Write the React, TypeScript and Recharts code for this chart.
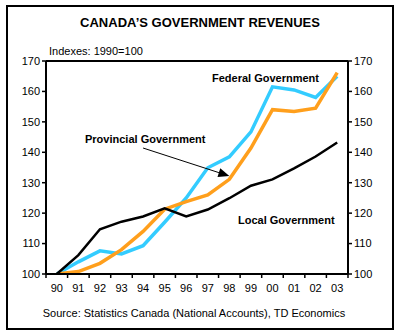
import { LineChart, Line, XAxis, YAxis, ReferenceLine } from 'recharts';

const years = ['90', '91', '92', '93', '94', '95', '96', '97', '98', '99', '00', '01', '02', '03'];
const federal = [100, 104, 107.6, 106.6, 109.3, 117, 125, 134.9, 138.5, 146.7, 161.5, 160.5, 158, 165];
const provincial = [100, 100.8, 103.5, 108, 114, 121.3, 123.8, 126, 131.1, 141.4, 154, 153.4, 154.5, 166.2];
const local = [100, 106.2, 114.7, 117.2, 118.9, 121.6, 118.9, 121.2, 124.9, 129, 131.1, 134.7, 138.6, 143.2];
const yTicks = [100, 110, 120, 130, 140, 150, 160, 170];

const FONT = 'Arial, "Liberation Sans", sans-serif';
const HALF_BAND = 10.8;

const data = years.map((y, i) => ({
  year: y,
  federal: federal[i],
  provincial: provincial[i],
  local: local[i],
}));

function XTick(props: any) {
  const { x, y, payload, index } = props;
  const last = index === years.length - 1;
  return (
    <g>
      <line x1={x - HALF_BAND} x2={x - HALF_BAND} y1={y - 8} y2={y - 4} stroke="#000" strokeWidth={1.5} />
      {last && (
        <line x1={x + HALF_BAND} x2={x + HALF_BAND} y1={y - 8} y2={y - 4} stroke="#000" strokeWidth={1.5} />
      )}
      <text x={x} y={y + 10} textAnchor="middle" fontSize={11} fontFamily={FONT} fill="#000">
        {payload.value}
      </text>
    </g>
  );
}

function Arrow(props: any) {
  const { x1, y1, x2, y2 } = props;
  const ang = Math.atan2(y2 - y1, x2 - x1);
  const len = 11;
  const w = 4.5;
  const bx = x2 - len * Math.cos(ang);
  const by = y2 - len * Math.sin(ang);
  const px = -Math.sin(ang) * w;
  const py = Math.cos(ang) * w;
  return (
    <g>
      <line x1={x1} y1={y1} x2={bx} y2={by} stroke="#000" strokeWidth={1} />
      <polygon points={`${x2},${y2} ${bx + px},${by + py} ${bx - px},${by - py}`} fill="#000" />
    </g>
  );
}

const label = (left: number, top: number, text: string) => (
  <div
    style={{
      position: 'absolute',
      left,
      top,
      fontFamily: FONT,
      fontWeight: 700,
      fontSize: 11,
      whiteSpace: 'nowrap',
      color: '#000',
    }}
  >
    {text}
  </div>
);

export default function App() {
  return (
    <div
      style={{
        position: 'absolute',
        left: 0,
        top: 0,
        width: 404,
        height: 336,
        background: '#fff',
        fontFamily: FONT,
      }}
    >
      <div
        style={{
          position: 'absolute',
          left: 6,
          top: 5,
          width: 384,
          height: 321,
          border: '2px solid #000',
        }}
      />
      <div
        style={{
          position: 'absolute',
          left: 0,
          width: 400,
          top: 15,
          textAlign: 'center',
          fontWeight: 700,
          fontSize: 13,
        }}
      >
        CANADA&#8217;S GOVERNMENT REVENUES
      </div>
      <div style={{ position: 'absolute', left: 49, top: 45, fontSize: 11 }}>Indexes: 1990=100</div>
      <div
        style={{
          position: 'absolute',
          left: 0,
          width: 388,
          top: 307,
          textAlign: 'center',
          fontSize: 11,
        }}
      >
        Source: Statistics Canada (National Accounts), TD Economics
      </div>
      <div style={{ position: 'absolute', left: 0, top: 0 }}>
        <LineChart
          width={404}
          height={336}
          data={data}
          margin={{ top: 61, right: 16, bottom: 32, left: 6 }}
        >
          <XAxis
            dataKey="year"
            padding={{ left: HALF_BAND, right: HALF_BAND }}
            axisLine={{ stroke: '#000', strokeWidth: 2 }}
            tickLine={false}
            tick={<XTick />}
            height={30}
            interval={0}
          />
          <YAxis
            yAxisId="left"
            domain={[100, 170]}
            ticks={yTicks}
            width={40}
            axisLine={{ stroke: '#000', strokeWidth: 2 }}
            tickLine={{ stroke: '#000', strokeWidth: 1.5 }}
            tickSize={4}
            tick={{ fontSize: 11, fontFamily: FONT, fill: '#000' }}
            allowDataOverflow
          />
          <YAxis
            yAxisId="right"
            orientation="right"
            domain={[100, 170]}
            ticks={yTicks}
            width={40}
            axisLine={{ stroke: '#000', strokeWidth: 2 }}
            tickLine={{ stroke: '#000', strokeWidth: 1.5 }}
            tickSize={4}
            tick={{ fontSize: 11, fontFamily: FONT, fill: '#000' }}
            allowDataOverflow
          />
          <ReferenceLine yAxisId="left" y={170} stroke="#000" strokeWidth={2} />
          <Line
            yAxisId="left"
            dataKey="federal"
            stroke="#33CCFF"
            strokeWidth={3.5}
            dot={false}
            isAnimationActive={false}
          />
          <Line
            yAxisId="left"
            dataKey="provincial"
            stroke="#FF9F1C"
            strokeWidth={3.5}
            dot={false}
            isAnimationActive={false}
          />
          <Line
            yAxisId="left"
            dataKey="local"
            stroke="#000"
            strokeWidth={2.5}
            dot={false}
            isAnimationActive={false}
          />
          <ReferenceLine
            yAxisId="left"
            segment={[
              { x: '94', y: 141.4 },
              { x: '98', y: 132.2 },
            ]}
            shape={<Arrow />}
          />
        </LineChart>
      </div>
      {label(212, 72, 'Federal Government')}
      {label(85, 133, 'Provincial Government')}
      {label(238, 214, 'Local Government')}
    </div>
  );
}
